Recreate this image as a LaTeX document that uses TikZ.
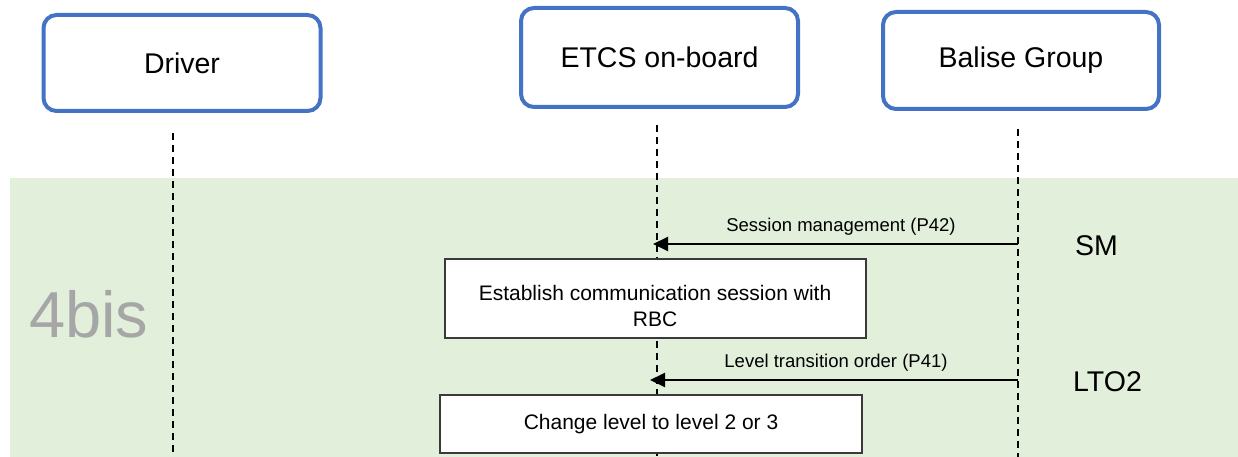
\documentclass[tikz,border=0pt]{standalone}
\usepackage{fontspec}
\setmainfont{Liberation Sans}
\usetikzlibrary{arrows.meta}
\definecolor{actorblue}{HTML}{4472C4}
\definecolor{bandgreen}{HTML}{E2EFDA}
\definecolor{phasegray}{HTML}{A6A6A6}
\definecolor{boxline}{HTML}{3A3A3A}
\tikzset{
  actor/.style={draw=actorblue, line width=4pt, rounded corners=13pt, fill=white,
    font=\fontsize{28.5}{34}\selectfont, inner sep=0pt},
  lifeline/.style={draw=black, line width=1.6pt, dash pattern=on 7pt off 5pt},
  msg/.style={draw=black, line width=2pt, -{Triangle[length=15pt,width=14pt]}},
  msglabel/.style={font=\fontsize{18.5}{22}\selectfont, anchor=base, inner sep=0pt},
  procbox/.style={draw=boxline, line width=1.2pt, fill=white, inner sep=0pt},
  proctext/.style={font=\fontsize{21}{26.5}\selectfont, align=center, inner sep=0pt},
  statelabel/.style={font=\fontsize{28.5}{34}\selectfont, anchor=base, inner sep=0pt},
}
\begin{document}
\begin{tikzpicture}[x=1pt,y=-1pt]
\useasboundingbox (0,0) rectangle (1238,457);
% phase band
\fill[bandgreen] (10,178) rectangle (1238,457);
\node[font=\fontsize{65}{70}\selectfont, text=phasegray, anchor=base west, inner sep=0pt] (phase) at (29,337) {4bis};
% actors
\node[actor, minimum width=277pt, minimum height=96pt] (driver) at (182,63) {Driver};
\node[actor, minimum width=277pt, minimum height=99pt] (etcs) at (659.5,57.5) {ETCS on-board};
\node[actor, minimum width=276pt, minimum height=97pt] (balise) at (1021,60.5) {Balise Group};
% lifeline ends
\coordinate (dtop) at (173,133); \coordinate (dbot) at (173,457);
\coordinate (etop) at (657,125); \coordinate (ebot) at (657,457);
\coordinate (btop) at (1018,129); \coordinate (bbot) at (1018,457);
\draw[lifeline] (dtop) -- (dbot);
\draw[lifeline] (etop) -- (ebot);
\draw[lifeline] (btop) -- (bbot);
% message 1
\coordinate (m1s) at (1018,244); \coordinate (m1e) at (653,244);
\draw[msg] (m1s) -- (m1e);
\node[msglabel] (m1l) at (841,231) {Session management (P42)};
\node[statelabel] (sm) at (1096.5,255) {SM};
% process 1
\node[procbox, minimum width=421pt, minimum height=79pt] (p1) at (655.5,298.5) {};
\node[proctext] (p1t) at (655,306) {Establish communication session with\\RBC};
% message 2
\coordinate (m2s) at (1018,380); \coordinate (m2e) at (650,380);
\draw[msg] (m2s) -- (m2e);
\node[msglabel] (m2l) at (836,367) {Level transition order (P41)};
\node[statelabel] (lto) at (1107.5,391) {LTO2};
% process 2
\node[procbox, proctext, minimum width=422pt, minimum height=58pt] (p2) at (651,424) {Change level to level 2 or 3};
\end{tikzpicture}
\end{document}
